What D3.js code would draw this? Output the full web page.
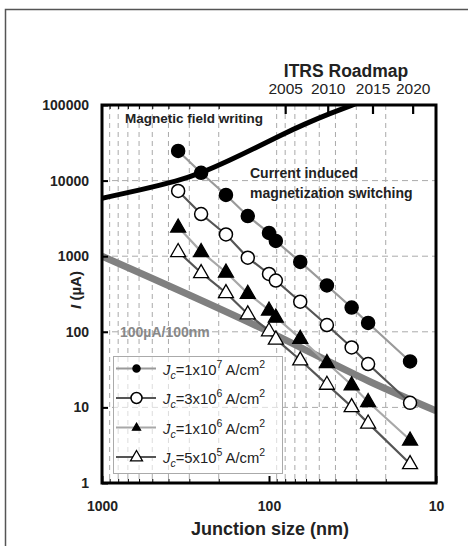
<!DOCTYPE html>
<html><head><meta charset="utf-8">
<script src="https://cdn.jsdelivr.net/npm/d3@7"></script>
<style>
body{margin:0;background:#fff;}
svg{display:block;font-family:"Liberation Sans",Arial,sans-serif;}
</style></head>
<body><svg id="c" width="468" height="546"></svg>
<script>
// ---- data ----
const sizes = [350, 255, 181, 134, 100, 91, 65, 45, 32, 25.5, 14.3];
const jc1e7 = [24650, 12700, 6450, 3400, 2030, 1590, 840, 410, 209, 131, 40.5];
const jc3e6 = [7290, 3610, 1940, 955, 582, 477, 250, 123, 62, 37.5, 11.5];
const jc1e6 = [2430, 1150, 614, 323, 194, 156, 82, 39, 19.8, 11.9, 3.7];
const jc5e5 = [1150, 605, 329, 172, 103, 80, 42.4, 20.2, 10.2, 6.2, 1.8];
const magD = [1000, 592, 351, 255, 171, 121, 86, 61, 43.2, 30.5];
const magI = [5830, 7510, 9880, 12600, 18700, 27000, 39500, 56100, 77200, 103000];
const refD = [1000, 100, 25, 10];
const refI = [1000, 100, 22, 9];
const yTicks = [1, 10, 100, 1000, 10000, 100000];
const xTicks = [1000, 100, 10];
const yearD = [80, 44.5, 24, 13.8];
const yearLabels = ["2005", "2010", "2015", "2020"];
const seriesNames = [["1x10","7"],["3x10","6"],["1x10","6"],["5x10","5"]];

const svg = d3.select("#c");
const L=102, R=436, T=105, B=483;
const x = d3.scaleLog().domain([1000,10]).range([L,R]);
const y = d3.scaleLog().domain([1,100000]).range([B,T]);

// outer figure frame (partial)
svg.append("path").attr("d",`M5.5,546 V9.5 H468`).attr("fill","none").attr("stroke","#555").attr("stroke-width",1.5);

// grid
const minorX = [];
[100,10].forEach(b=>{for(let k=2;k<=9;k++) minorX.push(b*k);});
const grid = svg.append("g");
grid.selectAll("line.vx").data(minorX).join("line")
  .attr("x1",d=>x(d)).attr("x2",d=>x(d)).attr("y1",T).attr("y2",B)
  .attr("stroke","#aaa").attr("stroke-width",1).attr("stroke-dasharray","5,4");
grid.selectAll("line.hy").data([10,100,1000,10000]).join("line")
  .attr("y1",d=>y(d)).attr("y2",d=>y(d)).attr("x1",L).attr("x2",R)
  .attr("stroke","#aaa").attr("stroke-width",1).attr("stroke-dasharray","6,4");

svg.append("clipPath").attr("id","pc").append("rect")
  .attr("x",L).attr("y",T).attr("width",R-L).attr("height",B-T);

// reference gray line
const lineGen = d3.line().x(d=>x(d[0])).y(d=>y(d[1])).curve(d3.curveMonotoneX);
svg.append("path").datum(refD.map((d,i)=>[d,refI[i]]))
  .attr("d",lineGen).attr("fill","none").attr("stroke","#808080").attr("stroke-width",7)
  .attr("clip-path","url(#pc)");

// magnetic field writing line
svg.append("path").datum(magD.map((d,i)=>[d,magI[i]]))
  .attr("d",d3.line().x(d=>x(d[0])).y(d=>y(d[1])).curve(d3.curveBasis))
  .attr("fill","none").attr("stroke","#000").attr("stroke-width",5)
  .attr("clip-path","url(#pc)");

// series
const series = [
  {vals:jc1e7, line:"#9a9a9a", marker:"circle", fill:"#000"},
  {vals:jc3e6, line:"#555", marker:"circle", fill:"#fff"},
  {vals:jc1e6, line:"#a8a8a8", marker:"triangle", fill:"#000"},
  {vals:jc5e5, line:"#555", marker:"triangle", fill:"#fff"}
];
const triPath = s => { const h=s*0.87; return `M0,${-h*0.62}L${s/2},${h*0.38}L${-s/2},${h*0.38}Z`; };
function drawMarker(g, type, fill, size){
  if(type==="circle"){
    g.append("circle").attr("r",size/2).attr("fill",fill).attr("stroke","#000").attr("stroke-width",1.5);
  } else {
    g.append("path").attr("d",triPath(size)).attr("fill",fill).attr("stroke","#000").attr("stroke-width",1.3);
  }
}
series.forEach(s=>{
  const pts = sizes.map((d,i)=>[d,s.vals[i]]);
  svg.append("path").datum(pts).attr("d",d3.line().x(d=>x(d[0])).y(d=>y(d[1])))
    .attr("fill","none").attr("stroke",s.line).attr("stroke-width",2.2);
});
series.forEach(s=>{
  sizes.forEach((d,i)=>{
    const g = svg.append("g").attr("transform",`translate(${x(d)},${y(s.vals[i])})`);
    drawMarker(g, s.marker, s.fill, s.marker==="circle"?13:15);
  });
});

// axes
const ax = svg.append("g").attr("transform",`translate(${L},0)`)
  .call(d3.axisLeft(y).tickValues(yTicks).tickFormat(d3.format("d")).tickSizeInner(-6).tickSizeOuter(0).tickPadding(13));
ax.select(".domain").remove();
ax.selectAll("line").attr("stroke-width",2);
ax.selectAll("text").attr("font-size",14).attr("font-weight","bold").attr("fill","#222");

const bx = svg.append("g").attr("transform",`translate(0,${B})`)
  .call(d3.axisBottom(x).tickValues(xTicks).tickFormat(d3.format("d")).tickSizeInner(-7).tickSizeOuter(0).tickPadding(18));
bx.select(".domain").remove();
bx.selectAll("line").attr("stroke-width",2);
bx.selectAll("text").attr("font-size",14).attr("font-weight","bold").attr("fill","#222");
const bxm = svg.append("g").attr("transform",`translate(0,${B})`)
  .call(d3.axisBottom(x).tickValues(minorX).tickFormat("").tickSizeInner(-4).tickSizeOuter(0));
bxm.select(".domain").remove();

const tx = svg.append("g").attr("transform",`translate(0,${T})`)
  .call(d3.axisTop(x).tickValues(yearD).tickFormat((d,i)=>yearLabels[i]).tickSizeInner(-9).tickSizeOuter(0).tickPadding(11));
tx.select(".domain").remove();
tx.selectAll("line").attr("stroke-width",2.2);
tx.selectAll("text").attr("font-size",15.5).attr("fill","#222");
const txm = svg.append("g").attr("transform",`translate(0,${T})`)
  .call(d3.axisTop(x).tickValues(minorX.filter(d=>d>=100)).tickFormat("").tickSizeInner(-4).tickSizeOuter(0));
txm.select(".domain").remove();

// frame
svg.append("rect").attr("x",L).attr("y",T).attr("width",R-L).attr("height",B-T)
  .attr("fill","none").attr("stroke","#000").attr("stroke-width",3);

// titles
svg.append("text").attr("x",346).attr("y",77).attr("text-anchor","middle")
  .attr("font-size",17.5).attr("font-weight","bold").attr("fill","#222").text("ITRS Roadmap");
svg.append("text").attr("x",270).attr("y",535).attr("text-anchor","middle")
  .attr("font-size",18).attr("font-weight","bold").attr("fill","#222").text("Junction size (nm)");
const yl = svg.append("text").attr("transform","translate(81,290) rotate(-90)").attr("text-anchor","middle")
  .attr("font-size",15).attr("font-weight","bold").attr("fill","#222");
yl.append("tspan").attr("font-style","italic").text("I");
yl.append("tspan").text(" (µA)");

// annotations
svg.append("text").attr("x",125).attr("y",123).attr("font-size",13.5).attr("font-weight","bold").attr("fill","#222").text("Magnetic field writing");
svg.append("text").attr("x",250).attr("y",178).attr("font-size",14).attr("font-weight","bold").attr("fill","#222").text("Current induced");
svg.append("text").attr("x",250).attr("y",198).attr("font-size",14).attr("font-weight","bold").attr("fill","#222").text("magnetization switching");
svg.append("text").attr("x",120).attr("y",337).attr("font-size",14).attr("font-weight","bold").attr("fill","#888").text("100µA/100nm");

// legend
const lg = svg.append("g");
lg.append("rect").attr("x",113.5).attr("y",356.5).attr("width",169).attr("height",117)
  .attr("fill","#fff").attr("fill-opacity",0.6).attr("stroke","#aaa").attr("stroke-width",1);
series.forEach((s,i)=>{
  const cy = 368.5 + i*29.5;
  lg.append("line").attr("x1",116).attr("x2",156).attr("y1",cy).attr("y2",cy)
    .attr("stroke",s.line).attr("stroke-width",2.2);
  const g = lg.append("g").attr("transform",`translate(136.5,${cy})`);
  if(s.marker==="circle") drawMarker(g,"circle",s.fill, s.fill==="#000"?7:11);
  else drawMarker(g,"triangle",s.fill, s.fill==="#000"?8:12);
  const t = lg.append("text").attr("x",163).attr("y",cy+6).attr("font-size",14.8).attr("fill","#222");
  t.append("tspan").attr("font-style","italic").text("J");
  t.append("tspan").attr("font-style","italic").attr("font-size",10.5).attr("dy",4).text("c");
  t.append("tspan").attr("dy",-4).text("=" + seriesNames[i][0]);
  t.append("tspan").attr("font-size",10.5).attr("dy",-7).text(seriesNames[i][1]);
  t.append("tspan").attr("dy",7).text(" A/cm");
  t.append("tspan").attr("font-size",10.5).attr("dy",-7).text("2");
});
</script></body></html>
